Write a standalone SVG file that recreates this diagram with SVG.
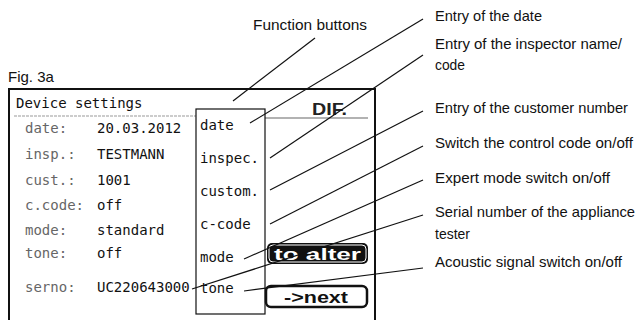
<svg xmlns="http://www.w3.org/2000/svg" width="641" height="320" viewBox="0 0 641 320">
  <defs>
    <style>
      .cap { font-family: "Liberation Sans Narrow", "Liberation Sans", Arial, sans-serif; font-size: 15px; fill: #111; }
      .fig { font-family: "Liberation Sans", Arial, sans-serif; font-size: 15px; fill: #111; }
      .lcd { font-family: "DejaVu Sans Mono", "Liberation Mono", monospace; font-size: 14px; fill: #111; }
      .lbl { fill: #666; }
      .btn { font-family: "Liberation Sans Narrow", "Liberation Sans", Arial, sans-serif; font-size: 17px; font-weight: bold; }
      .lead { stroke: #111; stroke-width: 1.2; fill: none; }
    </style>
  </defs>
  <rect width="641" height="320" fill="#fff"/>

  <!-- figure label -->
  <text class="fig" x="8" y="82">Fig. 3a</text>

  <!-- display screen -->
  <g id="screen">
    <path d="M9,324 V89 H375 V324" fill="none" stroke="#111" stroke-width="2"/>
    <text class="lcd" x="16" y="108" fill="#333">Device settings</text>
    <line x1="14" y1="116" x2="196" y2="116" stroke="#999" stroke-width="1" stroke-dasharray="3 1"/>
    <text class="btn" x="312" y="115" textLength="35" lengthAdjust="spacingAndGlyphs" fill="#222">DIF.</text>
    <line x1="265" y1="118" x2="368" y2="118" stroke="#666" stroke-width="1.2"/>
  </g>

  <!-- current settings -->
  <g id="settings">
    <text class="lcd lbl" x="25" y="133">date:</text>
    <text class="lcd" x="97" y="133">20.03.2012</text>
    <text class="lcd lbl" x="25" y="159">insp.:</text>
    <text class="lcd" x="97" y="159">TESTMANN</text>
    <text class="lcd lbl" x="25" y="185">cust.:</text>
    <text class="lcd" x="97" y="185">1001</text>
    <text class="lcd lbl" x="25" y="210">c.code:</text>
    <text class="lcd" x="97" y="210">off</text>
    <text class="lcd lbl" x="25" y="235">mode:</text>
    <text class="lcd" x="97" y="235">standard</text>
    <text class="lcd lbl" x="25" y="258">tone:</text>
    <text class="lcd" x="97" y="258">off</text>
    <text class="lcd lbl" x="25" y="292">serno:</text>
  </g>

  <!-- function button menu -->
  <g id="menu">
    <rect x="196" y="109" width="69" height="205" fill="#fff" stroke="#111" stroke-width="1.2"/>
    <text class="lcd" x="200" y="130">date</text>
    <text class="lcd" x="200" y="163">inspec.</text>
    <text class="lcd" x="200" y="196">custom.</text>
    <text class="lcd" x="200" y="229">c-code</text>
    <text class="lcd" x="200" y="262">mode</text>
    <text class="lcd" x="200" y="293">tone</text>
  </g>
  <text class="lcd" x="97" y="292">UC220643000</text>

  <!-- soft keys -->
  <g id="btn-alter">
    <rect x="267" y="243" width="101" height="21" rx="5" fill="#111"/>
    <rect x="269" y="245" width="97" height="17" rx="4" fill="none" stroke="#fff" stroke-width="1"/>
    <text class="btn" x="274" y="260" textLength="87" lengthAdjust="spacingAndGlyphs" fill="#fff">to alter</text>
  </g>
  <g id="btn-next">
    <rect x="266" y="286" width="101" height="21" rx="5" fill="#fff" stroke="#111" stroke-width="2.5"/>
    <text class="btn" x="284" y="303" textLength="64" lengthAdjust="spacingAndGlyphs" fill="#111">-&gt;next</text>
  </g>

  <!-- callout texts -->
  <g id="callouts">
    <text class="cap" x="253" y="30" textLength="114" lengthAdjust="spacingAndGlyphs">Function buttons</text>
    <text class="cap" x="435" y="21" textLength="107" lengthAdjust="spacingAndGlyphs">Entry of the date</text>
    <text class="cap" x="435" y="49" textLength="187" lengthAdjust="spacingAndGlyphs">Entry of the inspector name/</text>
    <text class="cap" x="435" y="70" textLength="30" lengthAdjust="spacingAndGlyphs">code</text>
    <text class="cap" x="435" y="113" textLength="193" lengthAdjust="spacingAndGlyphs">Entry of the customer number</text>
    <text class="cap" x="435" y="148" textLength="198" lengthAdjust="spacingAndGlyphs">Switch the control code on/off</text>
    <text class="cap" x="435" y="183" textLength="175" lengthAdjust="spacingAndGlyphs">Expert mode switch on/off</text>
    <text class="cap" x="435" y="217" textLength="200" lengthAdjust="spacingAndGlyphs">Serial number of the appliance</text>
    <text class="cap" x="435" y="239" textLength="35" lengthAdjust="spacingAndGlyphs">tester</text>
    <text class="cap" x="435" y="267" textLength="187" lengthAdjust="spacingAndGlyphs">Acoustic signal switch on/off</text>
  </g>

  <!-- leader lines -->
  <g id="connectors" class="lead">
    <line x1="315" y1="38" x2="233" y2="101"/>
    <line x1="423" y1="19" x2="250" y2="123"/>
    <line x1="423" y1="55" x2="270" y2="158"/>
    <line x1="423" y1="111" x2="270" y2="190"/>
    <line x1="423" y1="146" x2="270" y2="224"/>
    <line x1="423" y1="180" x2="244" y2="259"/>
    <line x1="423" y1="215" x2="192" y2="289"/>
    <line x1="423" y1="268" x2="244" y2="291"/>
  </g>
</svg>
